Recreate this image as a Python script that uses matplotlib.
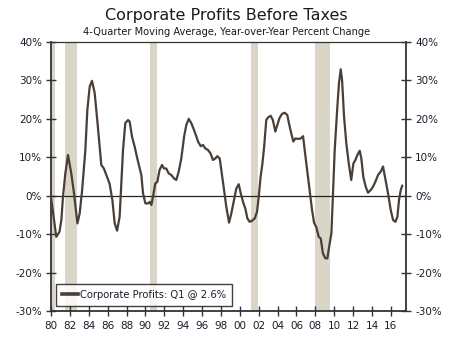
import matplotlib
matplotlib.use("Agg")
import matplotlib.pyplot as plt
from matplotlib.lines import Line2D

# Corporate profits before taxes, 4-quarter moving average, YoY % change
years = [
    1980.03, 1980.56, 1980.90, 1981.10, 1981.27, 1981.52, 1981.80, 1982.15, 1982.44, 1982.80,
    1983.04, 1983.30, 1983.64, 1983.85, 1984.10, 1984.34, 1984.63, 1984.90, 1985.15, 1985.33,
    1985.60, 1985.86, 1986.20, 1986.50, 1986.75, 1987.00, 1987.27, 1987.45, 1987.63, 1987.87,
    1988.16, 1988.33, 1988.58, 1988.86, 1989.14, 1989.40, 1989.57, 1989.75, 1990.00, 1990.28,
    1990.45, 1990.63, 1990.80, 1991.05, 1991.26, 1991.50, 1991.76, 1991.97, 1992.20, 1992.47,
    1992.74, 1993.03, 1993.27, 1993.53, 1993.80, 1994.10, 1994.33, 1994.59, 1994.86, 1995.15,
    1995.40, 1995.57, 1995.86, 1996.10, 1996.35, 1996.63, 1996.90, 1997.16, 1997.40, 1997.62,
    1997.87, 1998.04, 1998.33, 1998.57, 1998.86, 1999.10, 1999.39, 1999.63, 1999.88, 2000.10,
    2000.34, 2000.58, 2000.80, 2001.05, 2001.30, 2001.58, 2001.82, 2002.00, 2002.20, 2002.40,
    2002.58, 2002.80, 2003.00, 2003.27, 2003.50, 2003.76, 2003.97, 2004.20, 2004.47, 2004.75,
    2005.03, 2005.20, 2005.45, 2005.67, 2005.88, 2006.16, 2006.45, 2006.70, 2006.87, 2007.15,
    2007.40, 2007.65, 2007.86, 2008.10, 2008.36, 2008.57, 2008.80, 2009.06, 2009.27, 2009.52,
    2009.70, 2009.87, 2010.05, 2010.33, 2010.50, 2010.69, 2010.83, 2011.04, 2011.28, 2011.54,
    2011.80, 2012.03, 2012.24, 2012.45, 2012.70, 2012.87, 2013.08, 2013.34, 2013.58, 2013.87,
    2014.10, 2014.35, 2014.64, 2014.93, 2015.17, 2015.40, 2015.70, 2015.98, 2016.23, 2016.48,
    2016.69, 2016.86, 2017.05, 2017.20,
]
profits = [
    -0.9, -10.7, -9.4, -6.3, -0.3, 5.8, 10.6, 5.8, 0.6, -7.2,
    -4.6, 1.5, 11.9, 22.3, 28.4, 29.9, 26.7, 19.7, 12.8, 8.0,
    7.1, 5.4, 3.2, -1.1, -7.2, -9.1, -5.5, 3.2, 11.9, 18.9,
    19.7, 19.3, 15.4, 12.8, 9.7, 7.1, 5.4, 0.6, -2.0, -2.0,
    -1.6, -2.4, -0.3, 3.2, 3.6, 6.7, 8.0, 7.1, 7.1, 5.8,
    5.4, 4.5, 4.1, 6.3, 9.7, 15.4, 18.4, 20.0, 18.9, 17.1,
    15.4, 14.1, 12.9, 13.2, 12.3, 11.9, 11.0, 9.3, 9.7, 10.3,
    9.7, 6.7, 1.5, -2.9, -7.0, -4.6, -1.1, 1.9, 3.0, 0.6,
    -1.6, -3.3, -5.9, -6.8, -6.5, -5.9, -4.2, -0.3, 4.9, 8.5,
    12.8, 19.7, 20.4, 20.8, 19.7, 16.7, 18.4, 20.2, 21.3, 21.6,
    21.0, 18.9, 16.2, 14.1, 14.9, 14.8, 14.9, 15.5, 11.9, 6.3,
    1.5, -3.7, -7.0, -8.2, -10.7, -11.1, -15.0, -16.3, -16.3, -12.4,
    -9.8, 0.6, 11.9, 23.2, 29.3, 32.9, 30.1, 20.6, 13.6, 8.4,
    4.1, 8.4, 9.3, 10.6, 11.7, 9.7, 4.9, 2.3, 0.8, 1.5,
    2.3, 3.6, 5.4, 6.3, 7.6, 4.5, 0.6, -3.7, -6.3, -6.8,
    -5.5, -1.1, 1.5, 2.6,
]

# NBER recession periods (start, end)
recessions = [(1980.0, 1980.45), (1981.45, 1982.75), (1990.5, 1991.2),
              (2001.2, 2001.95), (2007.95, 2009.5)]

tick_years = list(range(1980, 2017, 2))
tick_labels = [f"{y % 100:02d}" for y in tick_years]
pct_ticks = list(range(-30, 41, 10))
pct_labels = [f"{v}%" for v in pct_ticks]

line_color = "#4a3f37"
band_color = "#d9d5c7"
text_color = "#1c1c2c"

fig = plt.figure(figsize=(4.5, 3.39), dpi=100)
ax = fig.add_axes([0.1133, 0.0826, 0.7889, 0.7934])

for start, end in recessions:
    ax.axvspan(start, end, color=band_color, lw=0, zorder=1)

ax.axhline(0, color="#222222", lw=0.9, zorder=2)
ax.plot(years, profits, color=line_color, lw=1.6, zorder=3,
        solid_joinstyle="round")

ax.set_xlim(1980, 2017.6)
ax.set_ylim(-30, 40)
ax.set_xticks(tick_years)
ax.set_xticklabels(tick_labels)
ax.set_yticks(pct_ticks)
ax.set_yticklabels(pct_labels)

ax.tick_params(axis="x", direction="inout", length=7, width=1.0,
               color="#333333", labelsize=7.5, labelcolor=text_color, pad=4)
ax.tick_params(axis="y", direction="inout", length=7, width=1.0,
               color="#333333", labelsize=7.5, labelcolor=text_color,
               left=True, right=True, labelleft=True, labelright=True, pad=3)

for name, sp in ax.spines.items():
    sp.set_color("#333333")
    sp.set_linewidth(1.3 if name in ("left", "right", "bottom") else 0.9)

handle = Line2D([], [], color=line_color, lw=2.6)
leg = ax.legend([handle], ["Corporate Profits: Q1 @ 2.6%"], loc="lower left",
                bbox_to_anchor=(0.013, 0.02), frameon=True, fancybox=False,
                fontsize=7.2, handlelength=1.6, handletextpad=0.2,
                borderpad=0.6, borderaxespad=0.0)
leg.get_frame().set_edgecolor("#111111")
leg.get_frame().set_linewidth(1.0)
for t in leg.get_texts():
    t.set_color(text_color)

fig.text(0.503, 0.955, "Corporate Profits Before Taxes", ha="center",
         va="center", fontsize=11.5, color="#1a1a1a")
fig.text(0.503, 0.905, "4-Quarter Moving Average, Year-over-Year Percent Change",
         ha="center", va="center", fontsize=7.1, color="#1a1a1a")

fig.savefig("out.png", dpi=100)
